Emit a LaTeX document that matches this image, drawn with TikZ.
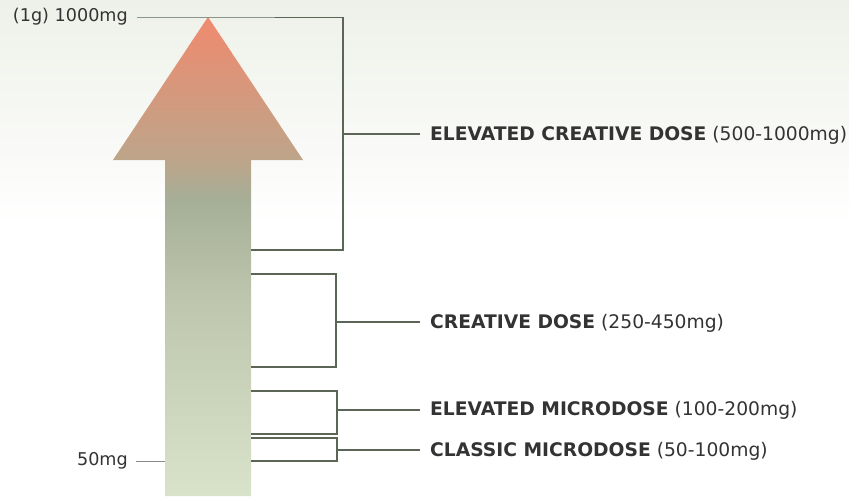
\documentclass[tikz,border=0pt]{standalone}
\usepackage{fontspec}
\setmainfont{DejaVu Sans}
\definecolor{bgtop}{HTML}{EEF1E9}
\definecolor{tipcol}{HTML}{F08A6E}
\definecolor{headbase}{HTML}{BDA58A}
\definecolor{sage}{HTML}{A6AE97}
\definecolor{shaftmid}{HTML}{BEC7AD}
\definecolor{shaftlow}{HTML}{D9E3CA}
\definecolor{bracket}{HTML}{5B6656}
\definecolor{ink}{HTML}{333333}
\definecolor{tickgrey}{HTML}{8A8A8A}
% vertical ramp for the dose arrow: path box spans 25bp (bottom) to 75bp (top)
\pgfdeclareverticalshading{doseramp}{100bp}{color(0bp)=(shaftlow); color(25bp)=(shaftlow); color(45.5bp)=(shaftmid); color(55.9bp)=(sage); color(60.1bp)=(headbase); color(75bp)=(tipcol); color(100bp)=(tipcol)}
\pgfdeclareverticalshading{paperramp}{100bp}{color(0bp)=(white); color(52bp)=(white); color(75bp)=(bgtop); color(100bp)=(bgtop)}
\tikzset{
  doselabel/.style={anchor=west, inner sep=0pt, text=ink, font=\fontsize{18.7}{22}\selectfont},
  scalelabel/.style={anchor=east, inner sep=0pt, text=ink, font=\fontsize{17.6}{21}\selectfont},
  bracketline/.style={draw=bracket, line width=1.2pt},
  scaletick/.style={draw=tickgrey, line width=0.9pt},
}
\begin{document}
\begin{tikzpicture}[x=1pt, y=-1pt]
  % page and background wash
  \useasboundingbox (0,0) rectangle (849,496);
  \shade[shading=paperramp] (0,0) rectangle (849,496);

  % the dose arrow
  \coordinate (tip) at (208,17);
  \shade[shading=doseramp] (tip) -- (303,160) -- (251,160) -- (251,496)
        -- (165,496) -- (165,160) -- (113,160) -- cycle;

  % scale end labels
  \node[scalelabel] (top) at (128,17) {(1g) 1000mg};
  \node[scalelabel] (low) at (128,461) {50mg};

  % dose range labels
  \node[doselabel] (ecd) at (430,135) {\textbf{ELEVATED CREATIVE DOSE} (500-1000mg)};
  \node[doselabel] (cd)  at (430,323.5) {\textbf{CREATIVE DOSE} (250-450mg)};
  \node[doselabel] (em)  at (430,410.5) {\textbf{ELEVATED MICRODOSE} (100-200mg)};
  \node[doselabel] (cm)  at (430,451.5) {\textbf{CLASSIC MICRODOSE} (50-100mg)};

  % bracket corners and midpoints
  \coordinate (ecdA) at (343,17);  \coordinate (ecdB) at (343,250); \coordinate (ecdM) at (343,134);
  \coordinate (cdA)  at (336,274); \coordinate (cdB)  at (336,367); \coordinate (cdM)  at (336,322);
  \coordinate (emA)  at (337,391); \coordinate (emB)  at (337,434); \coordinate (emM)  at (337,410);
  \coordinate (cmA)  at (337,438); \coordinate (cmB)  at (337,461); \coordinate (cmM)  at (337,450);

  % top scale line running into the first bracket
  \draw[bracketline, line width=1pt] ([xshift=9pt]top.east) -- (tip) -- (ecdA);
  \draw[scaletick] ([xshift=8pt]low.east) -- (165,461);

  % brackets
  \draw[bracketline] (ecdA) -- (ecdB) -- (251,250);
  \draw[bracketline] (251,274) -- (cdA) -- (cdB) -- (251,367);
  \draw[bracketline] (251,391) -- (emA) -- (emB) -- (251,434);
  \draw[bracketline] (251,438) -- (cmA) -- (cmB) -- (251,461);

  % leaders from brackets to labels
  \draw[bracketline] (ecdM) -- ([xshift=-10pt]ecd.west |- ecdM);
  \draw[bracketline] (cdM) -- ([xshift=-10pt]cd.west |- cdM);
  \draw[bracketline] (emM) -- ([xshift=-10pt]em.west |- emM);
  \draw[bracketline] (cmM) -- ([xshift=-10pt]cm.west |- cmM);
\end{tikzpicture}
\end{document}
